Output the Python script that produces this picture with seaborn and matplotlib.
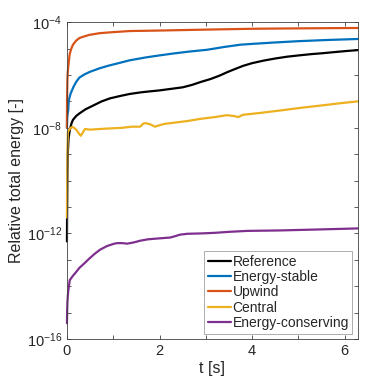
import numpy as np
import pandas as pd
import seaborn as sns
import matplotlib.pyplot as plt
from matplotlib.ticker import FixedLocator, NullFormatter

# values
t_ref = [0, 0.004, 0.01, 0.02, 0.035, 0.06, 0.1, 0.13, 0.2, 0.27, 0.4, 0.57, 0.75, 0.93, 1.15,
         1.35, 1.6, 1.8, 2.0, 2.2, 2.5, 2.7, 2.9, 3.1, 3.3, 3.45, 3.6, 3.8, 4.0, 4.25, 4.5,
         4.75, 5.05, 5.3, 5.5, 5.8, 6.05, 6.28]
e_ref = [5e-13, 8e-12, 1.5e-10, 1.2e-9, 4e-9, 8e-9, 1.5e-8, 2e-8, 2.8e-8, 3.5e-8, 5e-8, 7e-8,
         1e-7, 1.3e-7, 1.6e-7, 1.9e-7, 2.2e-7, 2.4e-7, 2.6e-7, 2.9e-7, 3.4e-7, 4.2e-7, 5.5e-7,
         7e-7, 9.5e-7, 1.25e-6, 1.6e-6, 2.2e-6, 2.8e-6, 3.5e-6, 4.2e-6, 4.9e-6, 5.6e-6, 6.2e-6,
         6.6e-6, 7.4e-6, 8.1e-6, 8.7e-6]

t_stable = [0, 0.003, 0.01, 0.028, 0.04, 0.08, 0.14, 0.2, 0.27, 0.38, 0.49, 0.71, 0.9, 1.08,
            1.36, 1.7, 2.0, 2.3, 2.65, 3.03, 3.4, 3.75, 4.0, 4.5, 5.0, 5.6, 6.28]
e_stable = [1e-8, 2e-8, 3e-8, 4.7e-8, 1.1e-7, 2e-7, 3.5e-7, 5.5e-7, 8e-7, 1.05e-6, 1.3e-6,
            1.8e-6, 2.25e-6, 2.7e-6, 3.6e-6, 4.6e-6, 5.5e-6, 6.5e-6, 7.7e-6, 9e-6, 1.15e-5,
            1.4e-5, 1.5e-5, 1.7e-5, 1.9e-5, 2.1e-5, 2.3e-5]

t_upwind = [0, 0.002, 0.008, 0.015, 0.028, 0.058, 0.09, 0.13, 0.2, 0.27, 0.38, 0.49, 0.7, 0.93,
            1.15, 1.36, 1.7, 2.0, 2.5, 3.0, 3.5, 4.0, 4.5, 5.0, 5.6, 6.28]
e_upwind = [1e-8, 1e-7, 5e-7, 1.1e-6, 2e-6, 6e-6, 9.5e-6, 1.4e-5, 2e-5, 2.5e-5, 2.9e-5,
            3.3e-5, 3.8e-5, 4.1e-5, 4.35e-5, 4.6e-5, 4.7e-5, 4.8e-5, 5e-5, 5.2e-5, 5.4e-5,
            5.6e-5, 5.7e-5, 5.8e-5, 5.9e-5, 6e-5]

t_central = [0, 0.005, 0.012, 0.02, 0.04, 0.06, 0.1, 0.13, 0.2, 0.26, 0.3, 0.34, 0.39, 0.5,
             0.8, 1.0, 1.2, 1.4, 1.58, 1.65, 1.7, 1.8, 1.9, 2.0, 2.1, 2.3, 2.6, 2.9, 3.2,
             3.45, 3.6, 3.7, 3.8, 4.2, 4.6, 5.05, 5.5, 5.9, 6.28]
e_central = [4e-12, 1e-10, 2e-9, 7e-9, 8e-9, 9e-9, 1.05e-8, 1.07e-8, 8.5e-9, 6e-9, 5e-9,
             6.5e-9, 9e-9, 8.5e-9, 9.2e-9, 9.6e-9, 1e-8, 1.1e-8, 1.1e-8, 1.45e-8, 1.5e-8,
             1.35e-8, 1.1e-8, 1.25e-8, 1.4e-8, 1.55e-8, 1.8e-8, 2.2e-8, 2.55e-8, 3e-8,
             2.8e-8, 2.55e-8, 3.1e-8, 3.7e-8, 4.5e-8, 5.7e-8, 7e-8, 8.5e-8, 1e-7]

t_cons = [0, 0.005, 0.01, 0.02, 0.03, 0.06, 0.13, 0.2, 0.27, 0.38, 0.49, 0.6, 0.71, 0.86,
          1.0, 1.08, 1.2, 1.3, 1.45, 1.58, 1.75, 1.94, 2.23, 2.35, 2.44, 2.6, 2.88, 3.17,
          3.5, 3.9, 4.6, 5.33, 6.28]
e_cons = [4e-16, 1.2e-15, 2.5e-15, 4.5e-15, 7e-15, 1.7e-14, 2.5e-14, 3.5e-14, 5e-14, 7.5e-14,
          1.15e-13, 1.7e-13, 2.4e-13, 3.3e-13, 4e-13, 4.3e-13, 4.3e-13, 4.1e-13, 4.6e-13,
          5.3e-13, 6e-13, 6.4e-13, 7e-13, 8e-13, 9e-13, 9.7e-13, 1e-12, 1.05e-12, 1.15e-12,
          1.25e-12, 1.3e-12, 1.4e-12, 1.55e-12]

labels = ['Reference', 'Energy-stable', 'Upwind', 'Central', 'Energy-conserving']
colors = ['#000000', '#0072BD', '#D95319', '#EDB120', '#7E2F8E']

frames = []
for name, t, e in zip(labels,
                      [t_ref, t_stable, t_upwind, t_central, t_cons],
                      [e_ref, e_stable, e_upwind, e_central, e_cons]):
    frames.append(pd.DataFrame({'t': t, 'energy': e, 'scheme': name}))
df = pd.concat(frames, ignore_index=True)

sns.set_style('ticks')
plt.rcParams['font.family'] = ['Liberation Sans', 'DejaVu Sans']
plt.rcParams['mathtext.fontset'] = 'custom'
plt.rcParams['mathtext.rm'] = 'Liberation Sans'
plt.rcParams['mathtext.it'] = 'Liberation Sans'

fig = plt.figure(figsize=(3.74, 3.88), dpi=100)
ax = fig.add_axes([0.179, 0.126, 0.778, 0.817])

sns.lineplot(data=df, x='t', y='energy', hue='scheme', hue_order=labels,
             palette=colors, estimator=None, sort=False, linewidth=1.6, ax=ax)
# MATLAB does not clip the t=0 segments at the axis line
for line in ax.get_lines():
    line.set_clip_on(False)

ax.set_yscale('log')
ax.set_xlim(0, 2 * np.pi)
ax.set_ylim(1e-16, 1e-4)

ax.yaxis.set_major_locator(FixedLocator([1e-16, 1e-12, 1e-8, 1e-4]))
ax.yaxis.set_minor_locator(FixedLocator([10.0 ** k for k in range(-16, -3)]))
ax.yaxis.set_minor_formatter(NullFormatter())
ax.set_yticklabels(['$10^{-16}$', '$10^{-12}$', '$10^{-8}$', '$10^{-4}$'])
ax.set_xticks([0, 2, 4, 6])
ax.xaxis.set_minor_locator(FixedLocator([1, 3, 5]))

ax.tick_params(which='both', direction='in', top=True, right=True, length=3,
               width=0.6, colors='#404040', labelsize=10.5, labelcolor='#262626')
for sp in ax.spines.values():
    sp.set_color('#404040')
    sp.set_linewidth(0.6)

ax.set_xlabel('t [s]', fontsize=11.5, color='#262626', labelpad=2)
ax.set_ylabel('Relative total energy [-]', fontsize=11.5, color='#262626', labelpad=2)

leg = ax.legend(loc='lower right', fontsize=10, handlelength=1.7, handletextpad=0.1,
                labelspacing=0.1, borderpad=0.25, borderaxespad=0.4, fancybox=False,
                framealpha=1, edgecolor='#a0a0a0')
leg.get_frame().set_linewidth(0.6)
for line in leg.get_lines():
    line.set_linewidth(1.6)

fig.savefig('out.png', dpi=100)
